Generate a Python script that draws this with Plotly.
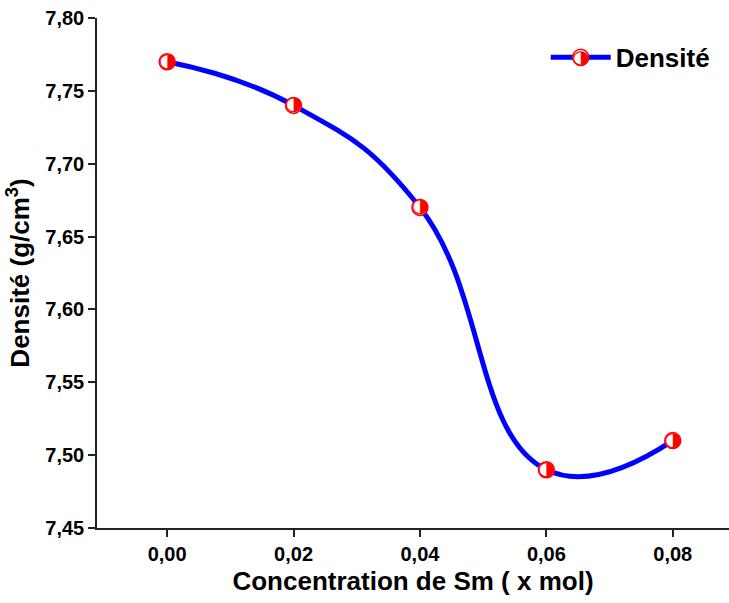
import plotly.graph_objects as go

# Density versus Sm content
concentration = [0.00, 0.02, 0.04, 0.06, 0.08]
densite = [7.77, 7.74, 7.67, 7.49, 7.51]
y_ticks = [7.45, 7.50, 7.55, 7.60, 7.65, 7.70, 7.75, 7.80]
x_ticks = [0.00, 0.02, 0.04, 0.06, 0.08]

FONT = "Arial, Liberation Sans, sans-serif"
HALF = "◑"

fig = go.Figure()

# Smoothed curve with white-filled circle markers
fig.add_trace(go.Scatter(
    x=concentration, y=densite,
    mode="lines+markers",
    name="<b>Densité</b>",
    line=dict(color="#0000ff", width=5, shape="spline", smoothing=1.3),
    marker=dict(symbol="circle", size=16, color="white",
                line=dict(color="#ff0000", width=1.5)),
))

# Right-half fill of each marker
fig.add_trace(go.Scatter(
    x=concentration, y=densite,
    mode="text",
    text=[HALF] * len(concentration),
    textposition="middle center",
    textfont=dict(color="#ff0000", size=20, family="DejaVu Sans"),
    showlegend=False,
    hoverinfo="skip",
))

# Same half fill on the legend symbol
fig.add_annotation(
    xref="paper", yref="paper", x=0.7645, y=0.9235,
    text=HALF, showarrow=False, xanchor="center", yanchor="middle",
    font=dict(color="#ff0000", size=20, family="DejaVu Sans"),
)

axis_common = dict(
    showline=True, linecolor="#222222", linewidth=1.5,
    ticks="outside", ticklen=7, tickwidth=1.5, tickcolor="#222222",
    showgrid=False, zeroline=False, mirror=False,
    tickfont=dict(family=FONT, size=20, color="black", weight="bold"),
)

fig.update_layout(
    width=729, height=603,
    margin=dict(l=97, r=0, t=18, b=75),
    paper_bgcolor="white", plot_bgcolor="white",
    separators=", ",
    showlegend=True,
    legend=dict(x=0.71, y=0.923, xanchor="left", yanchor="middle",
                bgcolor="rgba(0,0,0,0)", itemwidth=60,
                font=dict(family=FONT, size=26, color="black")),
    xaxis=dict(
        range=[-0.0111, 0.0889],
        tickvals=x_ticks, tickformat=".2f",
        title=dict(text="<b>Concentration de Sm ( x mol)</b>",
                   font=dict(family=FONT, size=26, color="black"),
                   standoff=8),
        **axis_common,
    ),
    yaxis=dict(
        range=[7.45, 7.80],
        tickvals=y_ticks, tickformat=".2f",
        title=dict(text="<b>Densité (g/cm<sup>3</sup>)</b>",
                   font=dict(family=FONT, size=26, color="black"),
                   standoff=8),
        **axis_common,
    ),
)

fig.write_html("out.html")
